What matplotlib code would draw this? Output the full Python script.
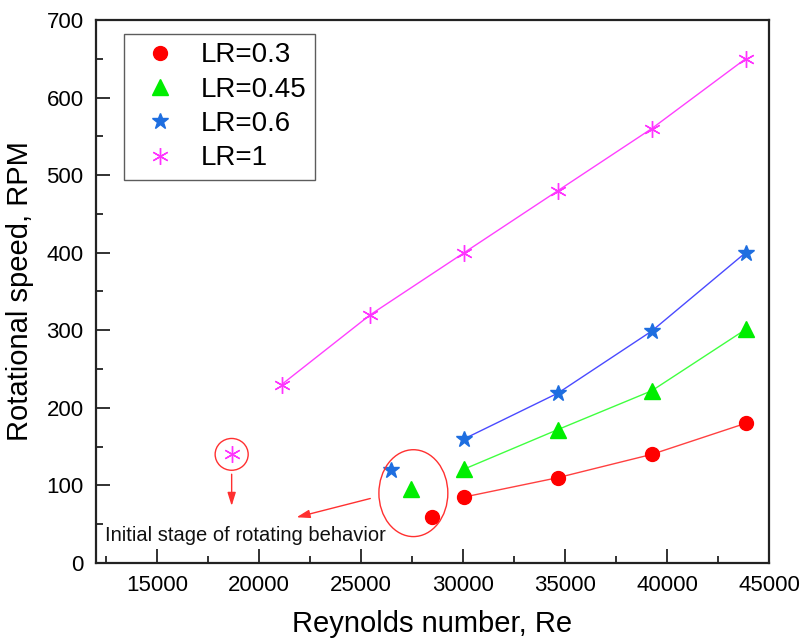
import matplotlib
matplotlib.use("Agg")
import matplotlib.pyplot as plt
from matplotlib.patches import Ellipse
from matplotlib.ticker import MultipleLocator

plt.rcParams['font.family'] = ['Liberation Sans', 'DejaVu Sans']

# Connected series (Re, RPM)
re_03 = [30050, 34650, 39250, 43850]
rpm_03 = [85, 110, 140, 180]
re_045 = [30050, 34650, 39250, 43850]
rpm_045 = [121, 172, 222, 301]
re_06 = [30050, 34650, 39250, 43850]
rpm_06 = [160, 219, 299, 400]
re_1 = [21100, 25450, 30050, 34650, 39250, 43850]
rpm_1 = [230, 320, 400, 480, 560, 650]

# Onset of rotation (isolated points)
onset_re_03, onset_rpm_03 = 28450, 59
onset_re_045, onset_rpm_045 = 27450, 96
onset_re_06, onset_rpm_06 = 26450, 120
onset_re_1, onset_rpm_1 = 18650, 140

fig = plt.figure(figsize=(8.01, 6.42), dpi=100)
ax = fig.add_axes([0.1199, 0.1231, 0.8402, 0.8458])

styles = [
    ("LR=0.3", re_03, rpm_03, onset_re_03, onset_rpm_03, 'o', '#ff0000', '#ff4040', 10),
    ("LR=0.45", re_045, rpm_045, onset_re_045, onset_rpm_045, '^', '#00ee00', '#40ff40', 11),
    ("LR=0.6", re_06, rpm_06, onset_re_06, onset_rpm_06, '*', '#1e6ee0', '#4a4aff', 12),
    ("LR=1", re_1, rpm_1, onset_re_1, onset_rpm_1, (6, 2, 0), '#ff33ff', '#ff40ff', 12),
]

for label, xs, ys, ox, oy, mk, mcol, lcol, ms in styles:
    ax.plot(xs, ys, '-', color=lcol, lw=1.0, zorder=2)
    ax.plot(xs, ys, linestyle='none', marker=mk, color=mcol, ms=ms,
            mec=mcol, mew=1.0, zorder=3, label=label)
    ax.plot([ox], [oy], linestyle='none', marker=mk, color=mcol, ms=ms,
            mec=mcol, mew=1.0, zorder=3)

# Annotations for the onset of rotation
ax.add_patch(Ellipse((18650, 140), 1620, 41, fill=False, ec='#ff3030', lw=1.0, zorder=4))
ax.add_patch(Ellipse((27560, 90), 3380, 112, fill=False, ec='#ff3030', lw=1.0, zorder=4))
ax.annotate('', xy=(18650, 70), xytext=(18650, 118),
            arrowprops=dict(arrowstyle='-|>,head_length=0.8,head_width=0.25',
                            color='#ff3030', lw=1.0))
ax.annotate('', xy=(21700, 58), xytext=(25580, 84),
            arrowprops=dict(arrowstyle='-|>,head_length=0.8,head_width=0.25',
                            color='#ff3030', lw=1.0))
ax.text(12440, 36, 'Initial stage of rotating behavior', fontsize=14.5,
        ha='left', va='center', color='#111111')

ax.set_xlim(12000, 45000)
ax.set_ylim(0, 700)
ax.xaxis.set_major_locator(MultipleLocator(5000))
ax.xaxis.set_minor_locator(MultipleLocator(2500))
ax.yaxis.set_major_locator(MultipleLocator(100))
ax.yaxis.set_minor_locator(MultipleLocator(50))
ax.set_xticks([15000, 20000, 25000, 30000, 35000, 40000, 45000])
ax.tick_params(which='both', direction='in', top=False, right=False, width=1.3, color='#222222')
ax.tick_params(which='major', length=10, labelsize=16, pad=9)
ax.tick_params(which='minor', length=5)
for s in ax.spines.values():
    s.set_linewidth(1.6)
    s.set_color('#222222')

ax.set_xlabel('Reynolds number, Re', fontsize=21, labelpad=10)
ax.set_ylabel('Rotational speed, RPM', fontsize=21, labelpad=9)

leg = ax.legend(loc='upper left', bbox_to_anchor=(0.042, 0.974), fontsize=20,
                frameon=True, fancybox=False, edgecolor='#333333',
                handlelength=1.95, handletextpad=0.5, borderpad=0.3,
                labelspacing=0.3, borderaxespad=0)
leg.get_frame().set_linewidth(1.0)

fig.savefig('out.png', dpi=100)
